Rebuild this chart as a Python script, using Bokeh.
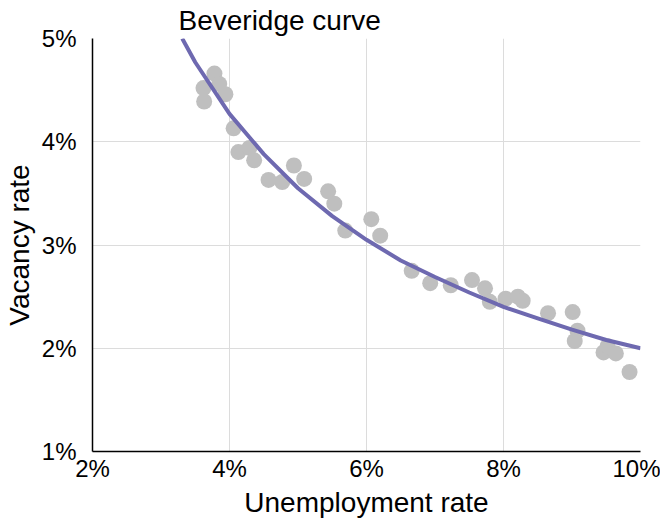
from bokeh.plotting import figure
from bokeh.models import FixedTicker, PrintfTickFormatter, Range1d, ColumnDataSource
from bokeh.embed import file_html
from bokeh.resources import INLINE

unemployment = [3.78, 3.62, 3.63, 3.85, 3.94, 4.06, 4.13, 4.29, 4.36, 4.57, 4.77, 4.94,
                5.09, 5.44, 5.53, 5.69, 6.07, 6.20, 6.66, 6.93, 7.23, 7.54, 7.73, 7.80,
                8.03, 8.21, 8.28, 8.65, 9.01, 9.08, 9.04, 9.46, 9.52, 9.64, 9.84]
vacancy = [4.66, 4.52, 4.39, 4.56, 4.46, 4.13, 3.90, 3.94, 3.82, 3.63, 3.61, 3.77,
           3.64, 3.52, 3.40, 3.14, 3.25, 3.09, 2.75, 2.63, 2.61, 2.66, 2.58, 2.45,
           2.48, 2.50, 2.46, 2.34, 2.35, 2.17, 2.07, 1.96, 2.02, 1.95, 1.77]

curve_u = [3.31, 3.5, 4.0, 4.5, 5.0, 5.5, 6.0, 6.5, 7.0, 7.5, 8.0, 8.5, 9.0, 9.5, 10.0]
curve_v = [5.00, 4.77, 4.27, 3.88, 3.55, 3.28, 3.05, 2.85, 2.69, 2.54, 2.40, 2.29, 2.18, 2.08, 2.00]

x_ticks = [2, 4, 6, 8, 10]
y_ticks = [1, 2, 3, 4, 5]

FONT = "Liberation Sans"

p = figure(width=660, height=520, output_backend="svg", toolbar_location=None,
           x_range=Range1d(2, 10), y_range=Range1d(1, 5),
           title="Beveridge curve")
p.min_border_left = 10
p.min_border_right = 20
p.min_border_top = 0
p.min_border_bottom = 0
p.outline_line_color = None

p.title.text_font = FONT
p.title.text_font_size = "28px"
p.title.text_font_style = "normal"
p.title.text_color = "black"
p.title.align = "left"
p.title.offset = 86
p.title.standoff = 5

src = ColumnDataSource(dict(u=unemployment, v=vacancy))
p.scatter("u", "v", source=src, size=16, fill_color="#bfbfbf", line_color=None)
p.line(curve_u, curve_v, line_color="#6e69b0", line_width=4)

for ax, ticks in ((p.xaxis, x_ticks), (p.yaxis, y_ticks)):
    ax.ticker = FixedTicker(ticks=ticks)
    ax.formatter = PrintfTickFormatter(format="%d%%")
    ax.major_tick_line_color = None
    ax.minor_tick_line_color = None
    ax.axis_line_color = "black"
    ax.axis_line_width = 1.5
    ax.major_label_text_font = FONT
    ax.major_label_text_font_size = "24px"
    ax.major_label_text_color = "black"
    ax.axis_label_text_font = FONT
    ax.axis_label_text_font_size = "28px"
    ax.axis_label_text_font_style = "normal"
    ax.axis_label_text_color = "black"

p.xaxis.axis_label = "Unemployment rate"
p.yaxis.axis_label = "Vacancy rate"
p.xaxis.major_label_standoff = -3
p.yaxis.major_label_standoff = 10
p.xaxis.axis_label_standoff = 2
p.yaxis.axis_label_standoff = 4

p.xgrid.ticker = FixedTicker(ticks=x_ticks)
p.ygrid.ticker = FixedTicker(ticks=y_ticks)
p.grid.grid_line_color = "#dcdcdc"
p.grid.grid_line_width = 1

open("out.html", "w").write(file_html(p, INLINE))
